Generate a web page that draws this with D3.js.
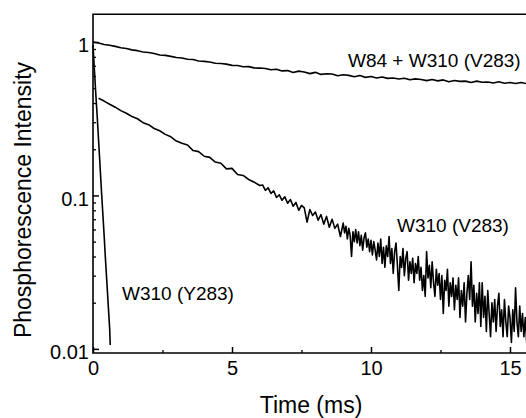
<!DOCTYPE html>
<html>
<head>
<meta charset="utf-8">
<script src="https://cdn.jsdelivr.net/npm/d3@7"></script>
<style>
  html, body { margin: 0; padding: 0; background: #fff; }
  svg { display: block; }
  text { font-family: "Liberation Sans", Arial, sans-serif; fill: #000; }
</style>
</head>
<body>
<svg id="chart" width="526" height="418"></svg>
<script>
// ---- data ----
const xTicks = [0, 5, 10, 15];
const xMinorTicks = [2.5, 7.5, 12.5];
const yTicks = [0.01, 0.1, 1];
const yTickLabels = ["0.01", "0.1", "1"];
const yMinorTicks = [0.02,0.03,0.04,0.05,0.06,0.07,0.08,0.09,0.2,0.3,0.4,0.5,0.6,0.7,0.8,0.9];

const seriesNames = ["W84 + W310 (V283)", "W310 (V283)", "W310 (Y283)"];

// W84 + W310 (V283)
const time1 = [0,0.2,0.4,0.6,0.8,1.0,1.2,1.4,1.6,1.8,2.0,2.2,2.4,2.6,2.8,3.0,3.2,3.4,3.6,3.8,
  4.0,4.2,4.4,4.6,4.8,5.0,5.2,5.4,5.6,5.8,6.0,6.2,6.4,6.6,6.8,7.0,7.2,7.4,7.6,7.8,
  8.0,8.2,8.4,8.6,8.8,9.0,9.2,9.4,9.6,9.8,10.0,10.2,10.4,10.6,10.8,11.0,11.2,11.4,11.6,11.8,
  12.0,12.2,12.4,12.6,12.8,13.0,13.2,13.4,13.6,13.8,14.0,14.2,14.4,14.6,14.8,15.0,15.2,15.4,15.6,15.8];
const int1 = [1.000,0.986,0.964,0.953,0.936,0.916,0.906,0.888,0.878,0.861,0.853,0.841,0.823,0.818,0.806,0.792,0.787,0.771,0.768,0.752,
  0.748,0.741,0.726,0.724,0.717,0.704,0.703,0.690,0.691,0.678,0.676,0.671,0.659,0.665,0.648,0.651,0.632,0.646,0.638,0.622,
  0.634,0.615,0.621,0.619,0.602,0.612,0.606,0.593,0.605,0.588,0.596,0.583,0.591,0.579,0.583,0.574,0.580,0.567,0.575,0.570,
  0.560,0.569,0.558,0.566,0.551,0.561,0.554,0.556,0.545,0.556,0.546,0.549,0.541,0.550,0.539,0.545,0.537,0.544,0.535,0.545];

// W310 (V283)
const time2 = [0.2,0.4,0.6,0.8,1.0,1.2,1.4,1.6,1.8,2.0,2.2,2.4,2.6,2.8,3.0,3.2,3.4,3.6,3.8,4.0,
  4.2,4.4,4.6,4.8,5.0,5.2,5.4,5.6,5.8,6.0,
  6.1,6.2,6.3,6.4,6.5,6.6,6.7,6.8,6.9,7.0,7.1,7.2,7.3,7.4,7.5,7.6,7.7,7.8,7.9,8.0,
  8.1,8.2,8.3,8.4,8.5,8.6,8.7,8.8,8.9,
  9.00,9.05,9.10,9.15,9.20,9.25,9.30,9.35,9.40,9.45,9.50,9.55,9.60,9.65,9.70,9.75,9.80,9.85,9.90,9.95,
  10.00,10.05,10.10,10.15,10.20,10.25,10.30,10.35,10.40,10.45,10.50,10.55,10.60,10.65,10.70,10.75,10.80,10.85,10.90,10.95,
  11.00,11.05,11.10,11.15,11.20,11.25,11.30,11.35,11.40,11.45,11.50,11.55,11.60,11.65,11.70,11.75,11.80,11.85,11.90,11.95,
  12.00,12.05,12.10,12.15,12.20,12.25,12.30,12.35,12.40,12.45,12.50,12.55,12.60,12.65,12.70,12.75,12.80,12.85,12.90,12.95,
  13.00,13.05,13.10,13.15,13.20,13.25,13.30,13.35,13.40,13.45,13.50,13.55,13.60,13.65,13.70,13.75,13.80,13.85,13.90,13.95,
  14.00,14.05,14.10,14.15,14.20,14.25,14.30,14.35,14.40,14.45,14.50,14.55,14.60,14.65,14.70,14.75,14.80,14.85,14.90,14.95,
  15.00,15.05,15.10,15.15,15.20,15.25,15.30,15.35,15.40,15.45,15.50,15.55,15.60,15.65,15.70];
const int2 = [0.430,0.412,0.393,0.376,0.357,0.343,0.327,0.316,0.298,0.289,0.273,0.264,0.250,0.241,0.226,0.219,0.213,0.196,0.193,0.180,
  0.177,0.165,0.162,0.149,0.150,0.137,0.135,0.127,0.122,0.116,
  0.117,0.108,0.112,0.103,0.107,0.097,0.101,0.093,0.098,0.089,0.094,0.085,0.090,0.080,0.086,0.083,0.067,0.081,0.074,0.078,
  0.069,0.075,0.065,0.073,0.062,0.070,0.061,0.065,0.054,
  0.066,0.057,0.063,0.052,0.061,0.055,0.040,0.058,0.050,0.060,0.049,0.058,0.047,0.055,0.044,0.053,0.057,0.046,0.052,0.043,
  0.051,0.041,0.050,0.044,0.038,0.049,0.040,0.052,0.036,0.046,0.034,0.047,0.040,0.054,0.036,0.045,0.031,0.043,0.049,0.035,
  0.024,0.040,0.034,0.045,0.030,0.039,0.043,0.028,0.037,0.031,0.039,0.027,0.036,0.031,0.040,0.028,0.034,0.024,0.030,0.022,
  0.043,0.029,0.035,0.025,0.037,0.027,0.022,0.033,0.026,0.031,0.021,0.030,0.017,0.028,0.024,0.033,0.019,0.027,0.022,0.029,
  0.018,0.026,0.021,0.029,0.016,0.024,0.019,0.027,0.015,0.023,0.030,0.021,0.037,0.019,0.026,0.015,0.023,0.017,0.027,0.014,
  0.027,0.016,0.022,0.013,0.024,0.017,0.012,0.020,0.015,0.021,0.013,0.019,0.023,0.014,0.018,0.012,0.021,0.015,0.012,0.019,
  0.016,0.011,0.018,0.013,0.025,0.015,0.012,0.019,0.013,0.017,0.012,0.016,0.011,0.015,0.013];

// W310 (Y283)
const time3 = [0,0.05,0.1,0.15,0.2,0.25,0.3,0.35,0.4,0.45,0.5,0.55,0.6,0.62];
const int3 = [0.95,0.66,0.46,0.33,0.23,0.16,0.11,0.078,0.055,0.038,0.027,0.019,0.0135,0.0106];

// ---- drawing ----
const svg = d3.select("#chart");
const x = d3.scaleLinear().domain([0, 16]).range([93, 537.8]);
const y = d3.scaleLog().domain([0.0094, 1.515]).range([353, 14.3]);
const x0 = x.range()[0], yB = y.range()[0], yT = y.range()[1];

const line = d3.line().x(d => x(d[0])).y(d => y(d[1]));
const seriesData = [
  d3.zip(time1, int1),
  d3.zip(time2, int2),
  d3.zip(time3, int3)
];

svg.append("g").selectAll("path").data(seriesData).join("path")
  .attr("d", line)
  .attr("fill", "none")
  .attr("stroke", "#000")
  .attr("stroke-width", 1.6)
  .attr("stroke-linejoin", "round");

// frame
svg.append("path")
  .attr("d", `M${x(16)},${yT}H${x0}V${yB}H${x(16)}`)
  .attr("fill", "none").attr("stroke", "#000").attr("stroke-width", 1.6);

// y axis
const yAxis = d3.axisLeft(y).tickValues(yTicks)
  .tickFormat((d, i) => yTickLabels[i]).tickSize(-6).tickPadding(4);
const gy = svg.append("g").attr("transform", `translate(${x0},0)`).call(yAxis);
gy.select(".domain").remove();
gy.selectAll("line").attr("stroke-width", 1.5);
gy.selectAll("text").attr("font-size", 20).attr("dy", "0.5em");

const gyMinor = svg.append("g").attr("transform", `translate(${x0},0)`)
  .call(d3.axisLeft(y).tickValues(yMinorTicks).tickFormat("").tickSize(-3));
gyMinor.select(".domain").remove();
gyMinor.selectAll("line").attr("stroke-width", 1.3);

// x axis
const xAxis = d3.axisBottom(x).tickValues(xTicks).tickSize(-6).tickPadding(4);
const gx = svg.append("g").attr("transform", `translate(0,${yB})`).call(xAxis);
gx.select(".domain").remove();
gx.selectAll("line").attr("stroke-width", 1.5);
gx.selectAll("text").attr("font-size", 20).attr("dy", "0.9em");

const gxMinor = svg.append("g").attr("transform", `translate(0,${yB})`)
  .call(d3.axisBottom(x).tickValues(xMinorTicks).tickFormat("").tickSize(-3));
gxMinor.select(".domain").remove();
gxMinor.selectAll("line").attr("stroke-width", 1.3);

// axis titles
svg.append("text").attr("x", 311).attr("y", 413).attr("text-anchor", "middle")
  .attr("font-size", 23).text("Time (ms)");
svg.append("text").attr("transform", "translate(31,200) rotate(-90)")
  .attr("text-anchor", "middle").attr("font-size", 23).text("Phosphorescence Intensity");

// series labels
const labelPos = [[348, 67], [397, 232], [122, 300]];
svg.append("g").selectAll("text").data(seriesNames).join("text")
  .attr("x", (d, i) => labelPos[i][0])
  .attr("y", (d, i) => labelPos[i][1])
  .attr("font-size", 19)
  .text(d => d);
</script>
</body>
</html>
